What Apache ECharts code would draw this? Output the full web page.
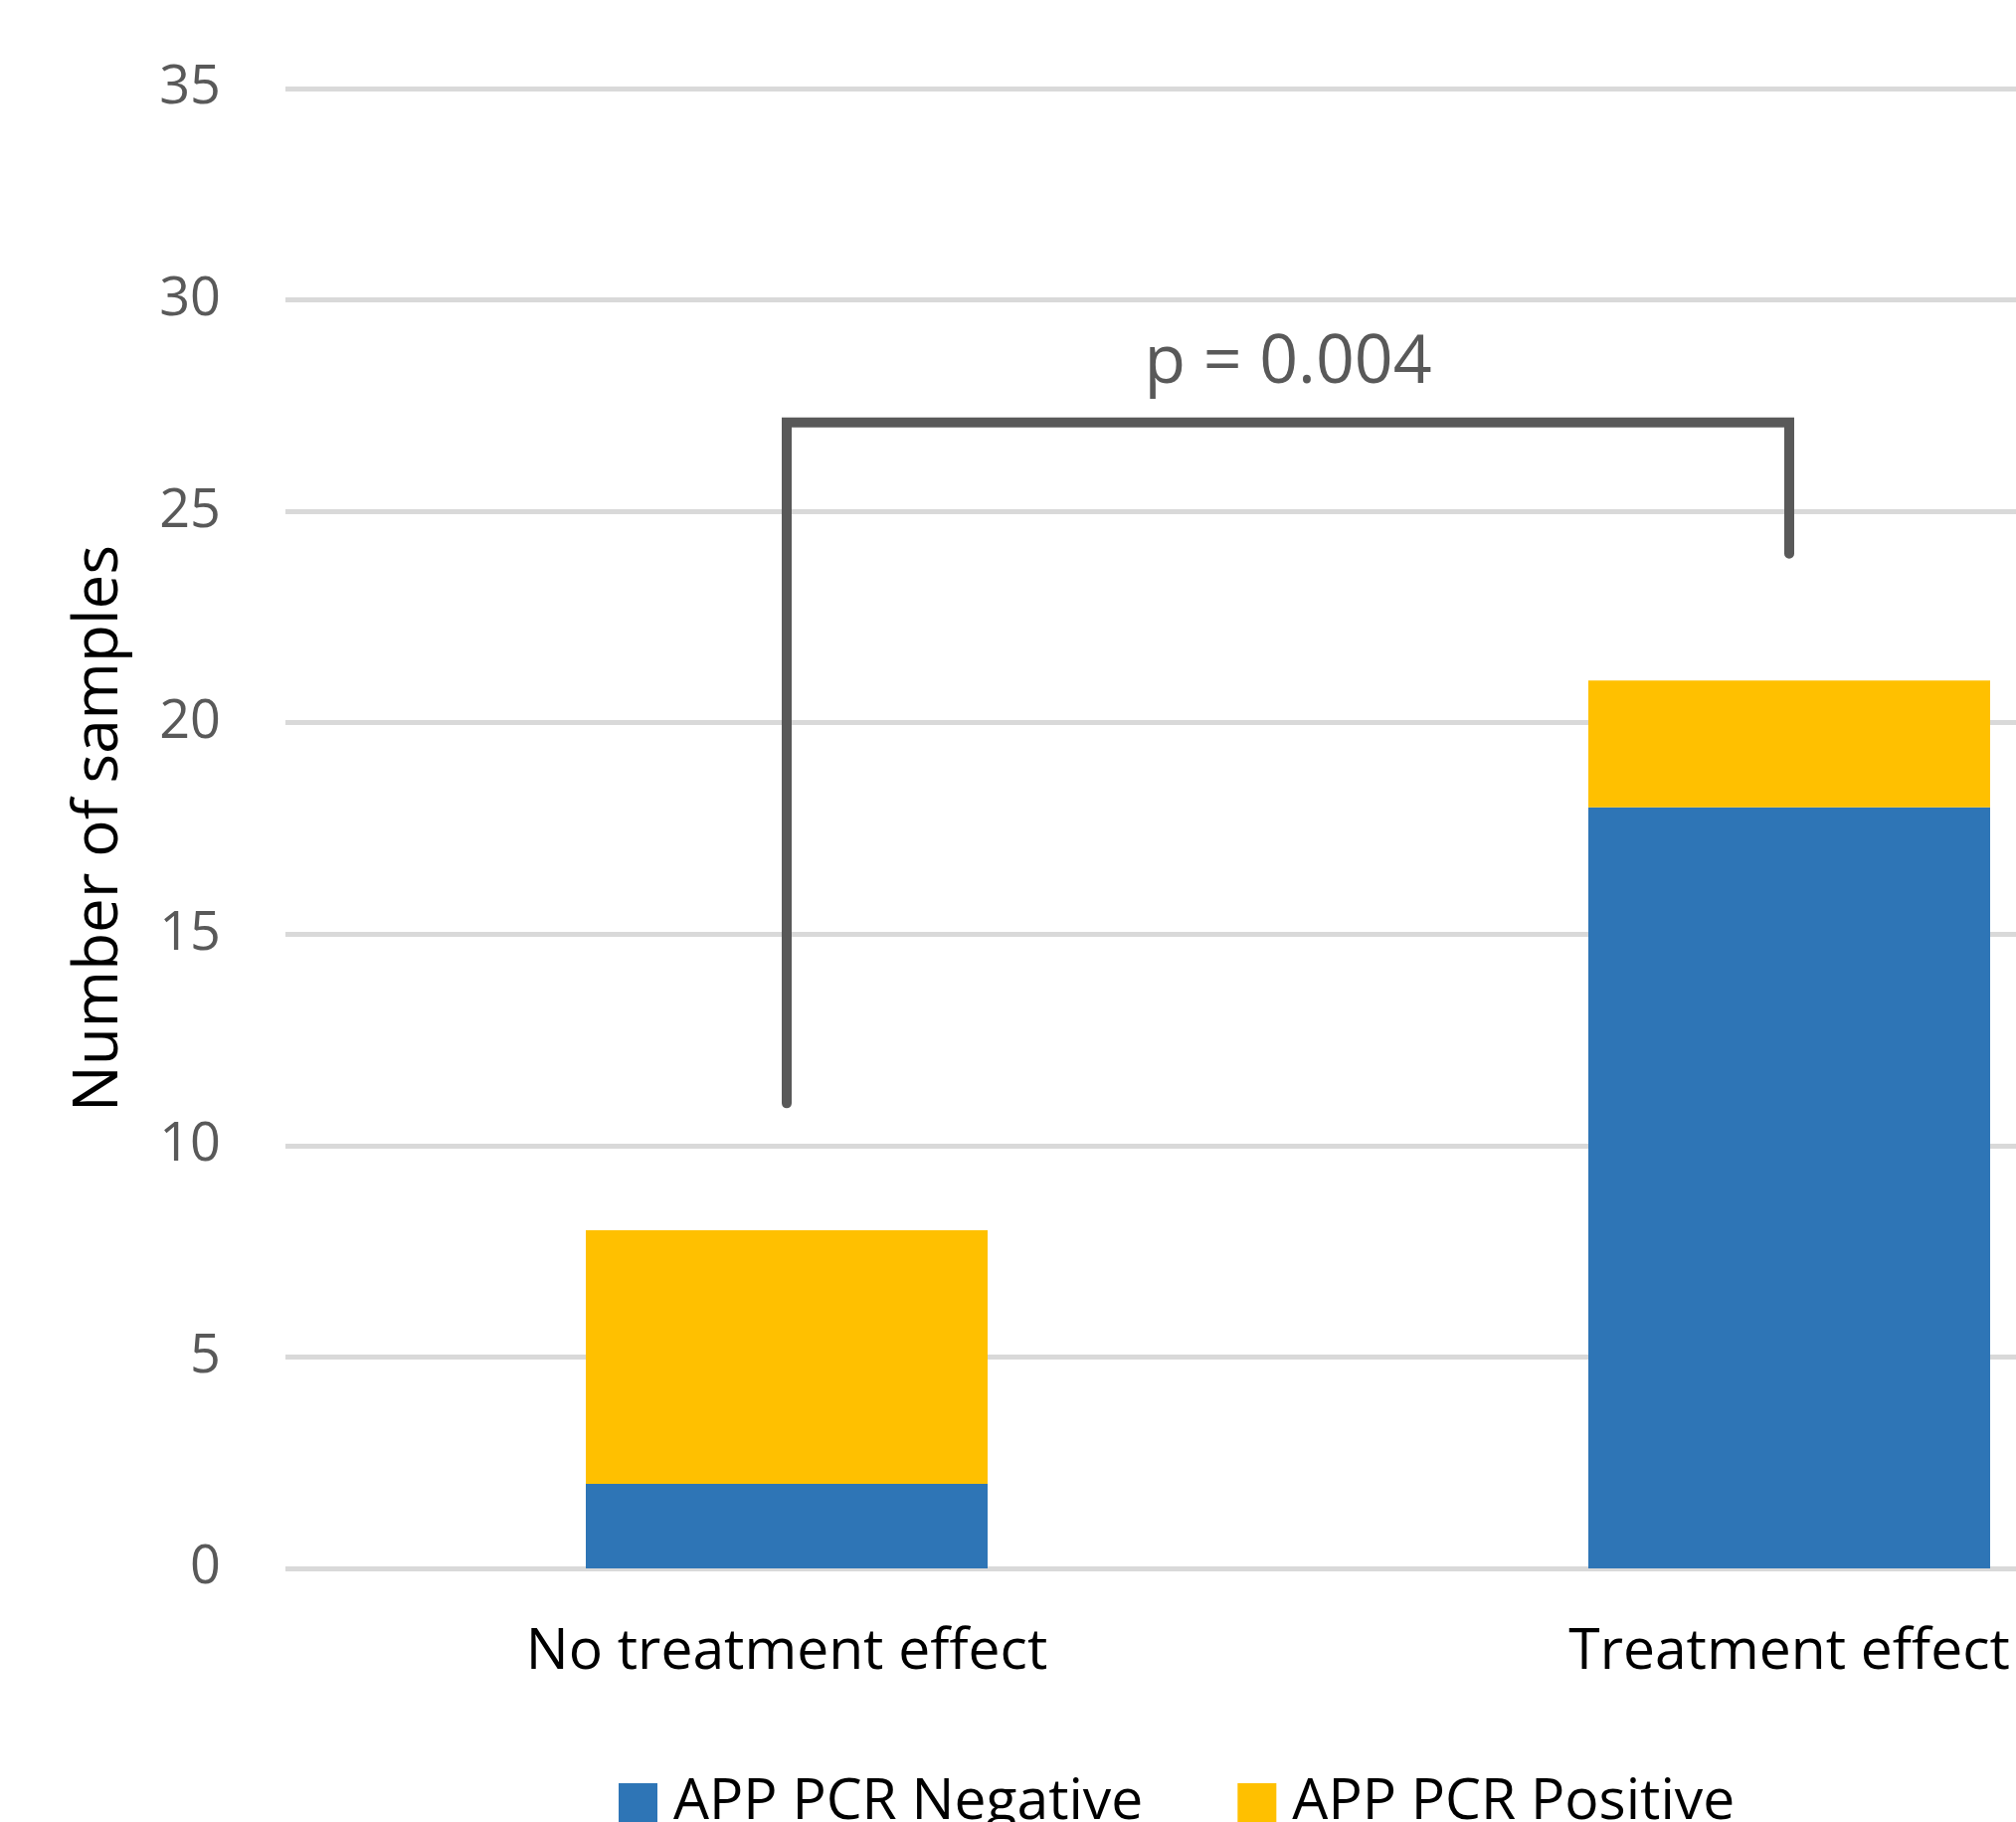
<!DOCTYPE html>
<html>
<head>
<meta charset="utf-8">
<script src="https://cdn.jsdelivr.net/npm/echarts@6/dist/echarts.min.js"></script>
<style>
html,body{margin:0;padding:0;background:#fff;overflow:hidden;width:2027px;height:1832px;}
#chart{width:2303px;height:1832px;}
</style>
</head>
<body>
<div id="chart"></div>
<script>
// ---- data ----
const categories = ['No treatment effect', 'Treatment effect'];
const seriesNames = ['APP PCR Negative', 'APP PCR Positive'];
const negativeValues = [2, 18];
const positiveValues = [6, 3];
const yTicks = { min: 0, max: 35, interval: 5 };
// significance bracket: [category index, value]
const bracketPoints = [[0, 11], [0, 27.1], [1, 27.1], [1, 24]];
const pText = 'p = 0.004';
const pTextValue = 28.5;

const FONT = '"Open Sans", "Noto Sans", sans-serif';
const chart = echarts.init(document.getElementById('chart'), null, { renderer: 'canvas' });

const option = {
  backgroundColor: '#ffffff',
  animation: false,
  color: ['#2e75b6', '#ffc000'],
  grid: { left: 287, top: 89, right: 0, bottom: 255, containLabel: false },
  legend: {
    data: seriesNames,
    left: 617,
    top: 1779,
    itemWidth: 39,
    itemHeight: 39,
    itemGap: 95,
    icon: 'rect',
    textStyle: { fontFamily: FONT, fontSize: 57, color: '#000000', padding: [0, 0, 0, 11] }
  },
  xAxis: {
    type: 'category',
    data: categories,
    axisLine: { show: false },
    axisTick: { show: false },
    axisLabel: { fontFamily: FONT, fontSize: 57, color: '#000000', margin: 56, interval: 0 }
  },
  yAxis: {
    type: 'value',
    min: yTicks.min,
    max: yTicks.max,
    interval: yTicks.interval,
    name: 'Number of samples',
    nameLocation: 'middle',
    nameGap: 156,
    nameTextStyle: { fontFamily: FONT, fontSize: 62, color: '#000000' },
    axisLine: { show: false },
    axisTick: { show: false },
    axisLabel: { fontFamily: FONT, fontSize: 54, color: '#595959', margin: 65 },
    splitLine: { lineStyle: { color: '#d9d9d9', width: 5 } }
  },
  series: [
    {
      name: seriesNames[0], type: 'bar', stack: 'total', data: negativeValues,
      barWidth: 404, itemStyle: { color: '#2e75b6' }
    },
    {
      name: seriesNames[1], type: 'bar', stack: 'total', data: positiveValues,
      barWidth: 404, itemStyle: { color: '#ffc000' }
    },
    {
      name: 'bracket', type: 'line', data: bracketPoints,
      showSymbol: false, symbol: 'none', silent: true,
      lineStyle: { color: '#595959', width: 10, cap: 'round', join: 'miter' },
      z: 5
    }
  ]
};
chart.setOption(option);

// p-value label positioned through the chart's own coordinate system
const p0 = chart.convertToPixel({ gridIndex: 0 }, [0, pTextValue]);
const p1 = chart.convertToPixel({ gridIndex: 0 }, [1, pTextValue]);
chart.setOption({
  graphic: [{
    type: 'text',
    x: (p0[0] + p1[0]) / 2,
    y: p0[1],
    style: {
      text: pText,
      fontFamily: FONT,
      fontSize: 68,
      fill: '#595959',
      align: 'center',
      verticalAlign: 'middle'
    },
    z: 10
  }]
});
</script>
</body>
</html>
